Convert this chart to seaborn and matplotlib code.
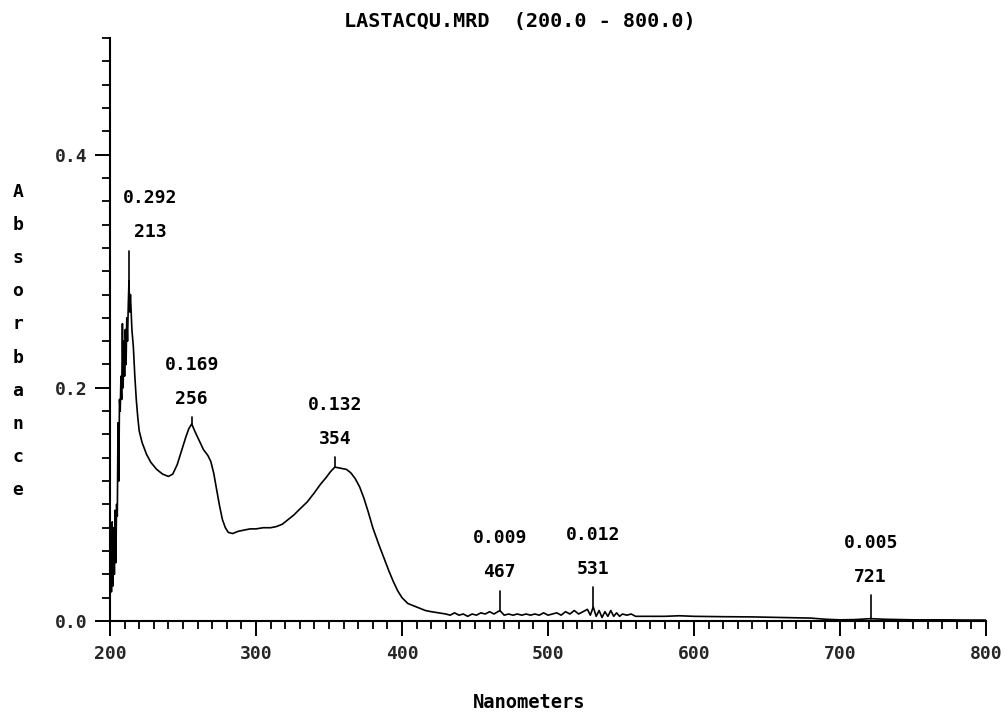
import numpy as np
import pandas as pd
import matplotlib
matplotlib.use("Agg")
import matplotlib.pyplot as plt
from matplotlib.ticker import MultipleLocator, FixedLocator
import seaborn as sns

# ---------------- data ----------------
wavelength = [
    200.0, 200.5, 201.0, 201.5, 202.0, 202.5, 203.0, 203.5, 204.0, 204.5,
    205.0, 205.5, 206.0, 206.5, 207.0, 207.5, 208.0, 208.5, 209.0, 209.5,
    210.0, 210.5, 211.0, 211.5, 212.0, 212.5, 213.0, 213.5, 214.0, 215.0,
    216.0, 217.0, 218.0, 219.0, 220.0, 222.0, 225.0, 228.0, 232.0, 236.0,
    240.0, 243.0, 246.0, 249.0, 252.0, 254.0, 256.0, 258.0, 261.0, 264.0,
    267.0, 269.0, 271.0, 273.0, 275.0, 277.0, 279.0, 281.0, 284.0, 288.0,
    292.0, 296.0, 300.0, 305.0, 310.0, 314.0, 318.0, 322.0, 326.0, 330.0,
    335.0, 340.0, 344.0, 348.0, 351.0, 354.0, 358.0, 362.0, 365.0, 368.0,
    371.0, 374.0, 377.0, 380.0, 384.0, 388.0, 391.0, 394.0, 397.0, 400.0,
    404.0, 408.0, 412.0, 416.0, 420.0, 425.0, 430.0, 433.0, 436.0, 439.0,
    442.0, 445.0, 448.0, 451.0, 454.0, 457.0, 460.0, 463.0, 467.0, 470.0,
    473.0, 476.0, 479.0, 482.0, 485.0, 488.0, 491.0, 494.0, 497.0, 500.0,
    503.0, 506.0, 509.0, 512.0, 515.0, 518.0, 521.0, 524.0, 527.0, 529.0,
    531.0, 533.0, 535.0, 537.0, 539.0, 541.0, 543.0, 545.0, 547.0, 549.0,
    551.0, 554.0, 557.0, 560.0, 570.0, 580.0, 590.0, 600.0, 620.0, 640.0,
    660.0, 680.0, 690.0, 700.0, 710.0, 721.0, 730.0, 750.0, 770.0, 790.0,
    800.0,
]
absorbance = [
    0.010, 0.070, 0.025, 0.085, 0.030, 0.080, 0.040, 0.095, 0.050, 0.100,
    0.090, 0.170, 0.120, 0.190, 0.180, 0.210, 0.190, 0.255, 0.200, 0.240,
    0.210, 0.250, 0.220, 0.260, 0.240, 0.270, 0.292, 0.265, 0.280, 0.250,
    0.235, 0.210, 0.190, 0.175, 0.163, 0.153, 0.143, 0.136, 0.130, 0.126,
    0.124, 0.126, 0.134, 0.146, 0.158, 0.165, 0.169, 0.163, 0.155, 0.147,
    0.142, 0.137, 0.127, 0.113, 0.099, 0.087, 0.080, 0.076, 0.075, 0.077,
    0.078, 0.079, 0.079, 0.080, 0.080, 0.081, 0.083, 0.087, 0.091, 0.096,
    0.102, 0.110, 0.117, 0.123, 0.128, 0.132, 0.131, 0.130, 0.127, 0.122,
    0.115, 0.105, 0.093, 0.080, 0.066, 0.053, 0.043, 0.034, 0.026, 0.020,
    0.015, 0.013, 0.011, 0.009, 0.008, 0.007, 0.006, 0.005, 0.007, 0.005,
    0.006, 0.004, 0.006, 0.005, 0.007, 0.006, 0.008, 0.006, 0.009, 0.005,
    0.006, 0.005, 0.006, 0.005, 0.006, 0.005, 0.006, 0.005, 0.007, 0.005,
    0.006, 0.007, 0.005, 0.008, 0.006, 0.009, 0.006, 0.008, 0.010, 0.005,
    0.012, 0.004, 0.009, 0.003, 0.008, 0.004, 0.009, 0.004, 0.007, 0.004,
    0.006, 0.005, 0.006, 0.004, 0.004, 0.004, 0.0045, 0.004, 0.0037, 0.0035,
    0.003, 0.0025, 0.0015, 0.001, 0.0012, 0.002, 0.0015, 0.001, 0.001, 0.0008,
    0.0008,
]

peak_wavelength = [213, 256, 354, 467, 531, 721]
peak_absorbance = [0.292, 0.169, 0.132, 0.009, 0.012, 0.005]

x_ticks = [200, 300, 400, 500, 600, 700, 800]
x_tick_labels = ["200", "300", "400", "500", "600", "700", "800"]
y_ticks = [0.0, 0.2, 0.4]
y_tick_labels = ["0.0", "0.2", "0.4"]

title_text = "LASTACQU.MRD  (200.0 - 800.0)"
x_label = "Nanometers"
y_label = "Absorbance"

# ---------------- figure ----------------
sns.set_theme(style="white")
plt.rcParams["font.family"] = ["DejaVu Sans Mono"]
plt.rcParams["font.weight"] = "bold"

DPI = 100
fig = plt.figure(figsize=(10.05, 7.22), dpi=DPI)
fig.patch.set_facecolor("white")

ax = fig.add_axes([110 / 1005, 101 / 722, 876 / 1005, 583 / 722])
ax.set_facecolor("none")

df = pd.DataFrame({"nm": wavelength, "abs": absorbance})
sns.lineplot(data=df, x="nm", y="abs", ax=ax, color="black", linewidth=1.2,
             estimator=None, sort=False)

ax.set_xlim(200, 800)
ax.set_ylim(0, 0.5)
ax.set_xlabel("")
ax.set_ylabel("")

sns.despine(ax=ax, top=True, right=True)
for s in ("left", "bottom"):
    ax.spines[s].set_linewidth(1.5)
    ax.spines[s].set_color("black")

ax.xaxis.set_major_locator(FixedLocator(x_ticks))
ax.set_xticklabels(x_tick_labels)
ax.xaxis.set_minor_locator(MultipleLocator(10))
ax.yaxis.set_major_locator(FixedLocator(y_ticks))
ax.set_yticklabels(y_tick_labels)
ax.yaxis.set_minor_locator(MultipleLocator(0.02))

ax.tick_params(axis="both", which="major", direction="out", length=11,
               width=1.4, color="black", labelsize=13, pad=5)
ax.tick_params(axis="both", which="minor", direction="out", length=5.5,
               width=1.3, color="black")
ax.tick_params(axis="x", which="major", pad=6)
ax.tick_params(axis="both", which="both", bottom=True, left=True)
for lab in ax.get_xticklabels() + ax.get_yticklabels():
    lab.set_fontweight("bold")

# peak markers and labels
px = 1.0 / (583 / 0.5)  # data units per pixel in y
marker_px = [30, 7, 10, 20, 20, 24]
label_dx_pt = [15, 0, 0, 0, 0, 0]
curve_at_peak = np.interp(peak_wavelength, wavelength, absorbance)
for wl, val, base, mlen, dx in zip(peak_wavelength, peak_absorbance,
                                    curve_at_peak, marker_px, label_dx_pt):
    top = base + mlen * px
    ax.plot([wl, wl], [base, top], color="black", linewidth=1.2)
    ax.annotate(f"{wl:d}", xy=(wl, top), xytext=(dx, 13),
                textcoords="offset points", ha="center", va="center",
                fontsize=13, fontweight="bold", color="black")
    ax.annotate(f"{val:.3f}", xy=(wl, top), xytext=(dx, 37.5),
                textcoords="offset points", ha="center", va="center",
                fontsize=13, fontweight="bold", color="black")

# titles / axis labels
fig.text(520 / 1005, 1 - 22 / 722, title_text, ha="center", va="center",
         fontsize=14.5, fontweight="bold", color="black")
fig.text(529 / 1005, 1 - 703 / 722, x_label, ha="center", va="center",
         fontsize=13.5, fontweight="bold", color="black")
fig.text(18 / 1005, 1 - 341 / 722, "\n".join(y_label), ha="center",
         va="center", fontsize=13, fontweight="bold", color="black",
         linespacing=2.08)

fig.savefig("out.png", dpi=DPI, facecolor="white")
